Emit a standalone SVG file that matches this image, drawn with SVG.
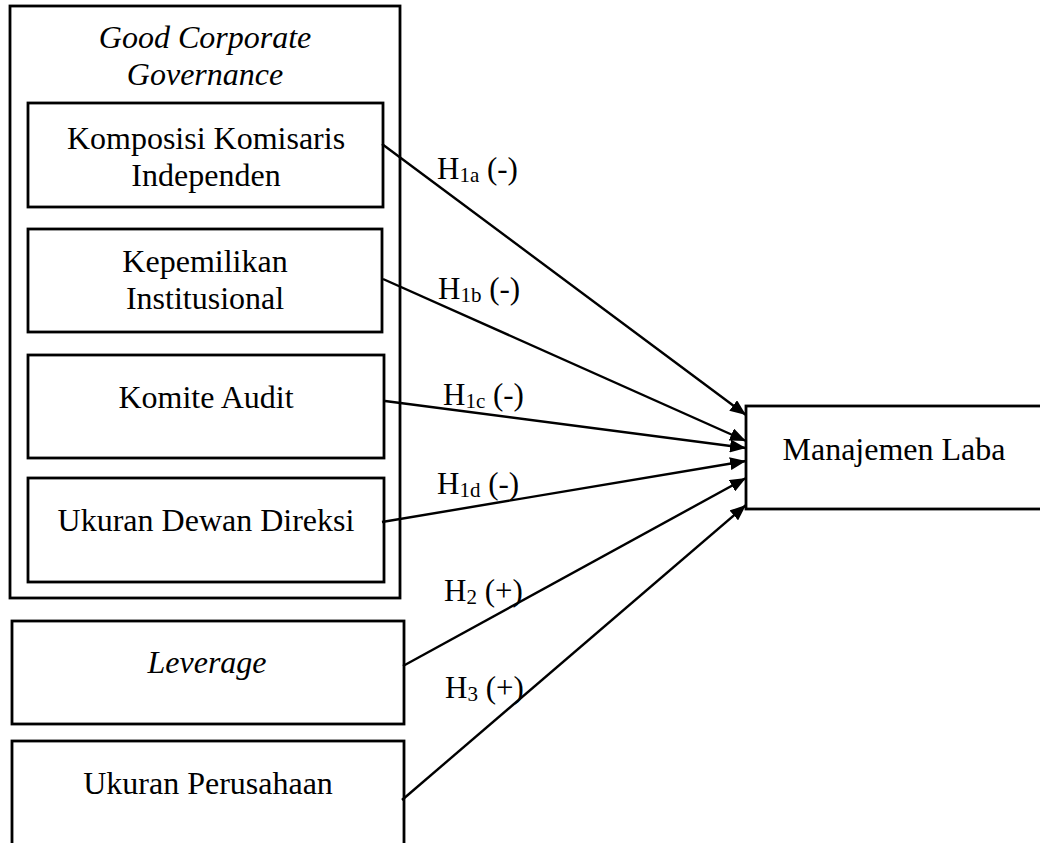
<svg xmlns="http://www.w3.org/2000/svg" width="1040" height="843" viewBox="0 0 1040 843">
<style>
  .box { fill: none; stroke: #000; stroke-width: 2.8; }
  .t { font-family: "Liberation Serif", "Times New Roman", serif; font-size: 32px; fill: #000; text-anchor: middle; }
  .i { font-style: italic; }
  .lbl { font-family: "Liberation Serif", "Times New Roman", serif; font-size: 31px; fill: #000; }
  .sub { font-size: 21px; }
  .conn { stroke: #000; stroke-width: 2.4; fill: none; marker-end: url(#arr); }
</style>
<defs>
  <marker id="arr" markerUnits="userSpaceOnUse" markerWidth="17" markerHeight="13" refX="16" refY="6.5" orient="auto">
    <path d="M0,0 L16,6.5 L0,13 z" fill="#000"/>
  </marker>
</defs>
<rect width="1040" height="843" fill="#fff"/>

<g id="gcg">
  <rect class="box" x="10" y="6" width="390" height="592"/>
  <text class="t i" x="205" y="48">Good Corporate</text>
  <text class="t i" x="205" y="85">Governance</text>
</g>
<g id="kki">
  <rect class="box" x="28" y="103" width="355" height="104"/>
  <text class="t" x="206" y="149">Komposisi Komisaris</text>
  <text class="t" x="206" y="186">Independen</text>
</g>
<g id="ki">
  <rect class="box" x="28" y="229" width="354" height="103"/>
  <text class="t" x="205" y="272">Kepemilikan</text>
  <text class="t" x="205" y="309">Institusional</text>
</g>
<g id="ka">
  <rect class="box" x="28" y="355" width="356" height="103"/>
  <text class="t" x="206" y="408">Komite Audit</text>
</g>
<g id="udd">
  <rect class="box" x="28" y="478" width="356" height="104"/>
  <text class="t" x="206" y="531">Ukuran Dewan Direksi</text>
</g>
<g id="lev">
  <rect class="box" x="12" y="621" width="392" height="103"/>
  <text class="t i" x="207" y="673">Leverage</text>
</g>
<g id="up">
  <rect class="box" x="12" y="741" width="392" height="110"/>
  <text class="t" x="208" y="794">Ukuran Perusahaan</text>
</g>
<g id="ml">
  <rect class="box" x="746" y="406" width="296" height="103"/>
  <text class="t" x="894" y="460">Manajemen Laba</text>
</g>

<g id="connectors">
  <line class="conn" x1="382" y1="144" x2="746" y2="415"/>
  <line class="conn" x1="383" y1="279" x2="746" y2="441"/>
  <line class="conn" x1="385" y1="401" x2="746" y2="448"/>
  <line class="conn" x1="382" y1="522" x2="746" y2="461"/>
  <line class="conn" x1="403" y1="666" x2="746" y2="478"/>
  <line class="conn" x1="402" y1="800" x2="746" y2="505"/>
  <text class="lbl" x="437" y="179">H<tspan class="sub" dy="3">1a</tspan><tspan dy="-3"> (-)</tspan></text>
  <text class="lbl" x="438" y="299">H<tspan class="sub" dy="3">1b</tspan><tspan dy="-3"> (-)</tspan></text>
  <text class="lbl" x="443" y="405">H<tspan class="sub" dy="3">1c</tspan><tspan dy="-3"> (-)</tspan></text>
  <text class="lbl" x="437" y="494">H<tspan class="sub" dy="3">1d</tspan><tspan dy="-3"> (-)</tspan></text>
  <text class="lbl" x="444" y="601">H<tspan class="sub" dy="3">2</tspan><tspan dy="-3"> (+)</tspan></text>
  <text class="lbl" x="445" y="698">H<tspan class="sub" dy="3">3</tspan><tspan dy="-3"> (+)</tspan></text>
</g>
</svg>
